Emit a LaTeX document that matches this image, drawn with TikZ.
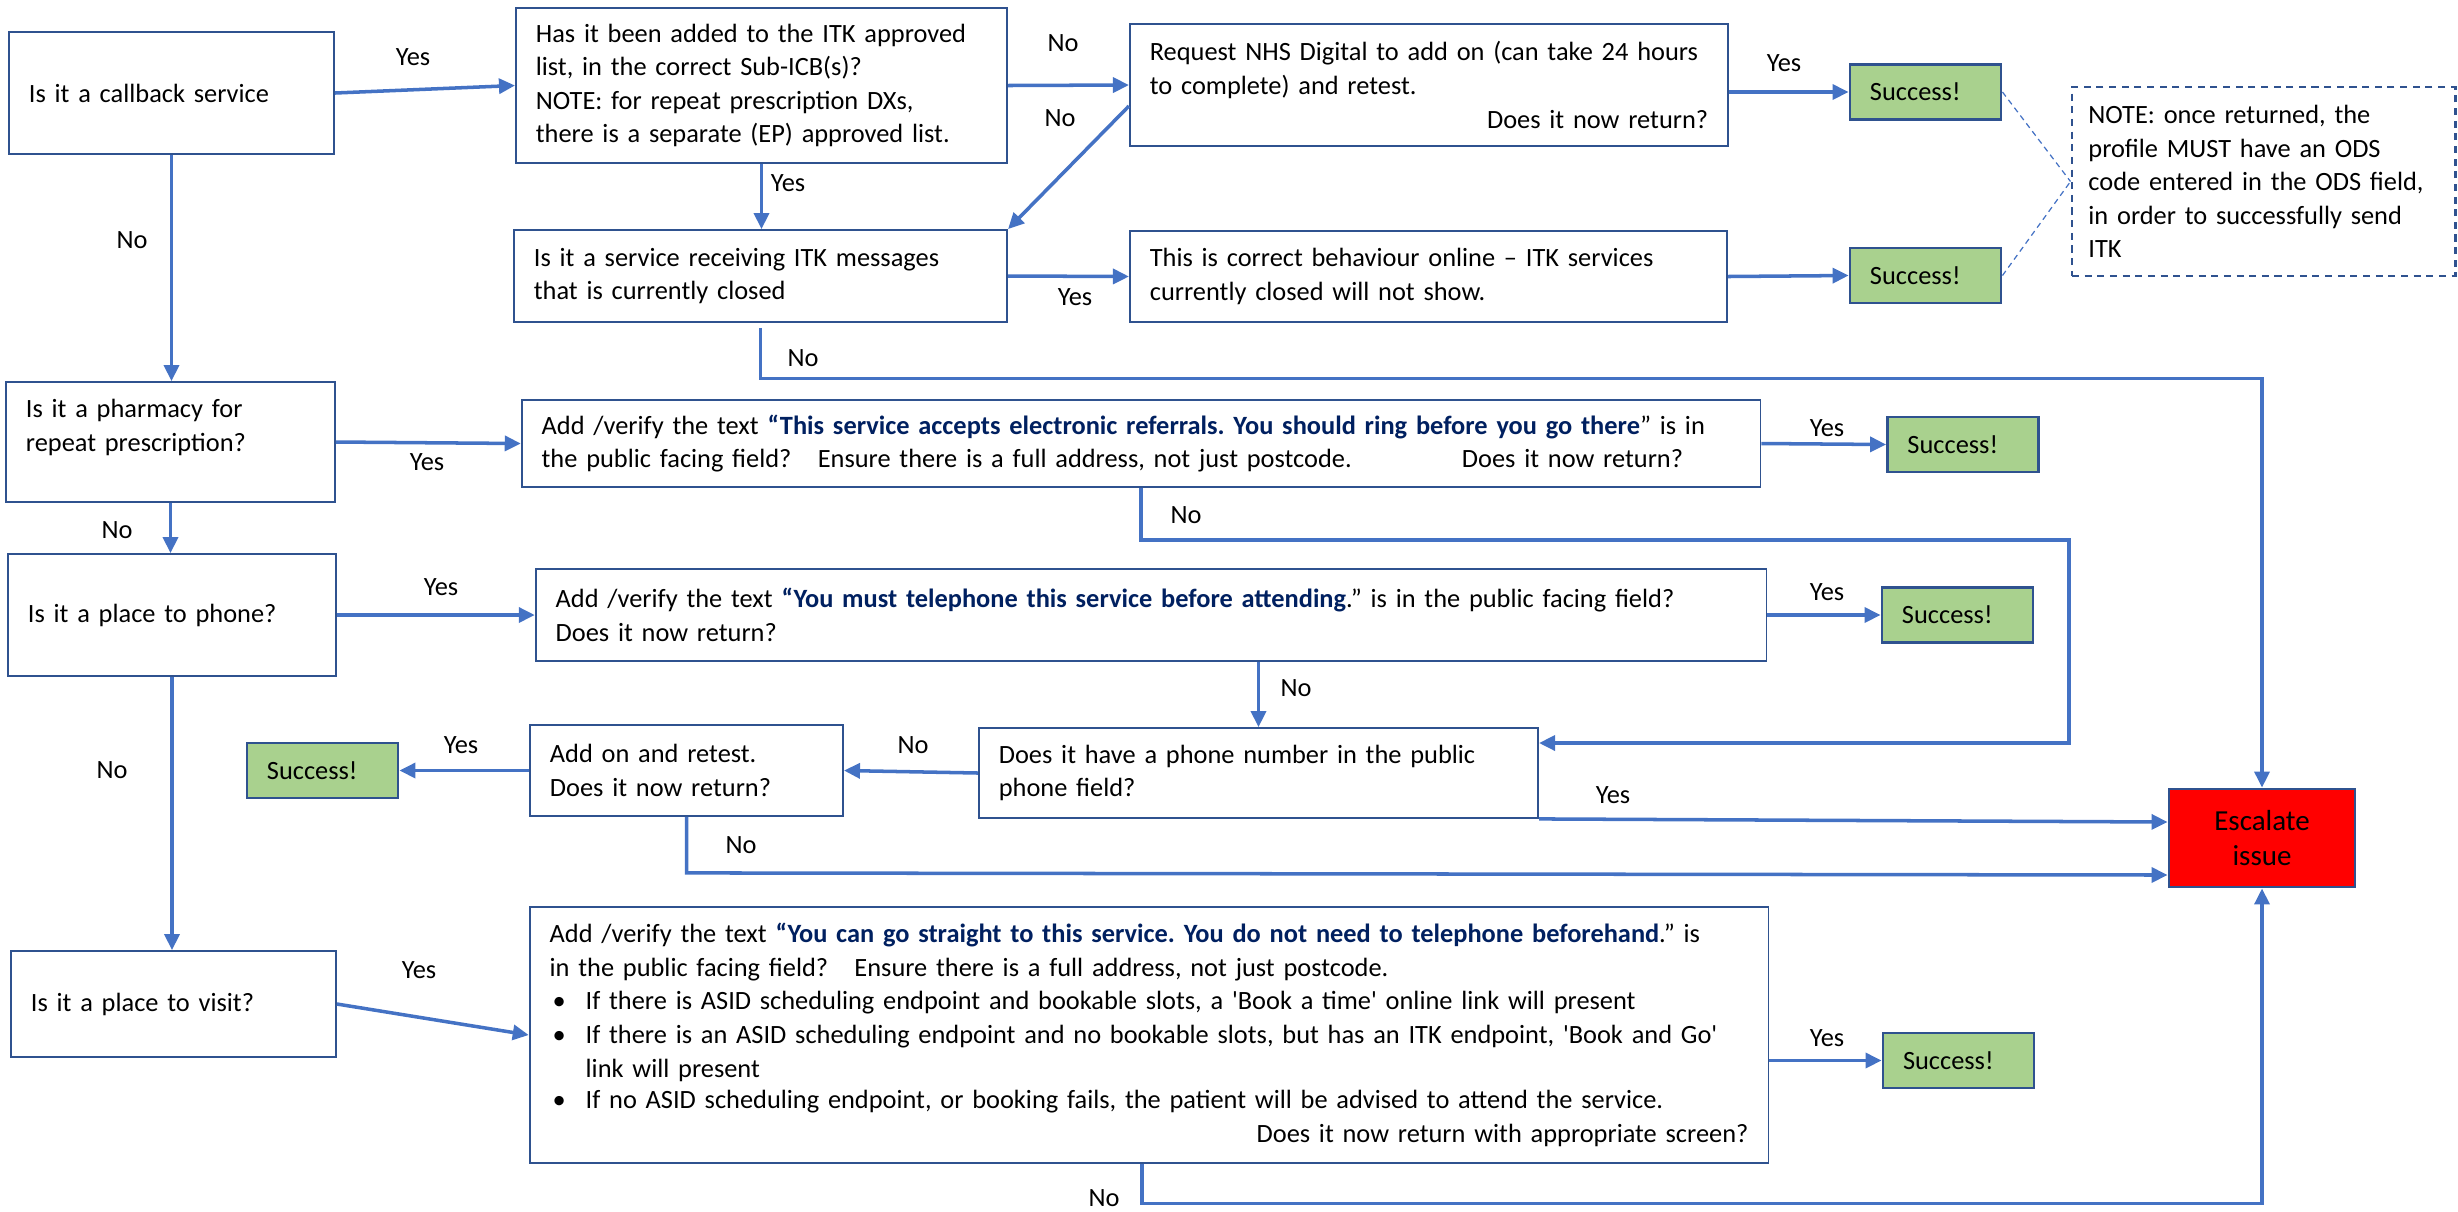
\documentclass[tikz,border=0pt]{standalone}
\usepackage{fontspec}
\setmainfont{Carlito}
\usetikzlibrary{arrows.meta,calc}
\definecolor{boxblue}{HTML}{2F528F}
\definecolor{lineblue}{HTML}{4472C4}
\definecolor{okgreen}{HTML}{A9D18E}
\definecolor{navy}{HTML}{002060}
\newcommand{\boxfont}{\fontsize{7.5}{9.55}\selectfont\frenchspacing\hyphenpenalty=10000\parskip=0pt}
\newcommand{\hl}[1]{\textbf{\color{navy}#1}}
\newcommand{\bul}{\leavevmode\hbox to 0.36cm{\hskip0.03cm\textbullet\hfil}}
\tikzset{
  box/.style 2 args={draw=boxblue, line width=0.5pt, fill=white, align=left, text width=#1, minimum height=#2, inner xsep=0.2cm, inner ysep=0pt},
  okbox/.style={draw=boxblue, line width=0.8pt, fill=okgreen, align=left, text width=1.11cm, minimum height=0.55cm, inner xsep=0.2cm, inner ysep=0pt},
  escbox/.style={draw=boxblue, line width=0.8pt, fill=red, align=center, minimum width=1.86cm, minimum height=0.98cm, font=\fontsize{8.25}{10}\selectfont},
  link/.style={draw=lineblue, line width=1pt, -{Triangle[length=0.16cm,width=0.15cm]}},
  dotlink/.style={draw=lineblue, line width=0.35pt, dash pattern=on 1.6pt off 1.2pt},
}
\begin{document}
\begin{tikzpicture}[x=0.01cm, y=-0.01cm, font=\boxfont]
\useasboundingbox (0,0) rectangle (2458,1211);

% callback branch
\node[box={2.85cm}{1.22cm}] (cb) at (171.5,93) {Is it a callback service};
\node[box={4.51cm}{1.55cm}] (itk) at (761.5,85.5) {Has it been added to the ITK approved\\list, in the correct Sub-ICB(s)?\\NOTE: for repeat prescription DXs,\\there is a separate (EP) approved list.};
\node[box={5.58cm}{1.22cm}] (req) at (1429,85) {Request NHS Digital to add on (can take 24 hours\\to complete) and retest.\\\hspace*{\fill}Does it now return?};
\node[okbox] (ok1) at (1925.5,92) {Success!};
\node[box={4.53cm}{0.92cm}] (closed) at (760.5,276) {Is it a service receiving ITK messages\\that is currently closed};
\node[box={5.57cm}{0.91cm}] (correct) at (1428.5,276.5) {This is correct behaviour online – ITK services\\currently closed will not show.};
\node[okbox] (ok2) at (1925.5,275.5) {Success!};
\node[box={3.5cm}{1.89cm}, inner xsep=0.165cm, line width=0.8pt, dash pattern=on 2pt off 1.6pt] (note) at (2263.5,181.5) {NOTE: once returned, the\\profile MUST have an ODS\\code entered in the ODS field,\\in order to successfully send\\ITK};

% pharmacy branch
\node[box={2.89cm}{1.2cm}] (pharm) at (170.5,442) {Is it a pharmacy for\\repeat prescription?\\\mbox{}};
\node[box={11.98cm}{0.87cm}] (add1) at (1141,443.5) {Add /verify the text \hl{“This service accepts electronic referrals. You should ring before you go there}” is in\\the public facing field?\ \ \ Ensure there is a full address, not just postcode.\hspace{1.1cm}Does it now return?};
\node[okbox] (ok3) at (1963,444.5) {Success!};

% phone branch
\node[box={2.88cm}{1.22cm}] (phone) at (172,615) {Is it a place to phone?};
\node[box={11.9cm}{0.92cm}] (add2) at (1151,615) {Add /verify the text \hl{“You must telephone this service before attending}.” is in the public facing field?\\Does it now return?};
\node[okbox] (ok5) at (1957.5,615) {Success!};
\node[box={5.19cm}{0.9cm}] (num) at (1258.5,773) {Does it have a phone number in the public\\phone field?};
\node[box={2.73cm}{0.91cm}] (addon) at (686.5,770.5) {Add on and retest.\\Does it now return?};
\node[okbox] (ok4) at (322.5,770.5) {Success!};
\node[escbox] (esc) at (2262,838) {Escalate\\issue};

% visit branch
\node[box={2.85cm}{1.06cm}] (visit) at (173.5,1004) {Is it a place to visit?};
\node[box={11.98cm}{2.56cm}] (add3) at (1149,1035) {Add /verify the text \hl{“You can go straight to this service. You do not need to telephone beforehand}.” is\newline in the public facing field?\ \ \ Ensure there is a full address, not just postcode.\par
  \bul If there is ASID scheduling endpoint and bookable slots, a \textquotesingle Book a time\textquotesingle\ online link will present\par
  \bul\parbox[t]{11.5cm}{If there is an ASID scheduling endpoint and no bookable slots, but has an ITK endpoint, \textquotesingle Book and Go\textquotesingle\\link will present\strut}\par
  \bul If no ASID scheduling endpoint, or booking fails, the patient will be advised to attend the service.\newline\hspace*{\fill}Does it now return with appropriate screen?};
\node[okbox] (ok6) at (1958.5,1060.5) {Success!};

% connectors
\draw[link] (cb.east) -- (itk.west);
\draw[link] (itk.east) -- (req.west);
\draw[link] (req.184) -- (closed.north east);
\draw[link] (itk.south) -- (itk.south |- closed.north);
\draw[link] (closed.east) -- (correct.west);
\draw[link] (req.east |- ok1.west) -- (ok1.west);
\draw[link] (correct.east) -- (ok2.west);
\draw[dotlink] (ok1.east) -- (note.west);
\draw[dotlink] (ok2.east) -- (note.west);
\draw[link] ($(closed.south)+(0,5)$) |- ($(esc.north)+(0,-409)$) -- (esc.north);
\draw[link] (cb.south) -- (cb.south |- pharm.north);
\draw[link] (pharm.east) -- (add1.west);
\draw[link] (add1.east) -- (ok3.west);
\draw[link] (add1.south) -- ++(0,52) -- ++(928,0) |- ($(num.east)+(0,-30)$);
\draw[link] (pharm.south) -- (pharm.south |- phone.north);
\draw[link] (phone.east) -- (add2.west);
\draw[link] (add2.east) -- (ok5.west);
\draw[link] (add2.south -| num.north) -- (num.north);
\draw[link] (num.west) -- (addon.east);
\draw[link] (addon.west) -- (ok4.east);
\draw[link] (num.south east) -- ($(esc.west)+(0,-16)$);
\draw[link] (addon.south) -- ++(0,56) -- ($(esc.west)+(0,37)$);
\draw[link] (phone.south) -- (phone.south |- visit.north);
\draw[link] (visit.east) -- (add3.west);
\draw[link] (add3.east |- ok6.west) -- (ok6.west);
\draw[link] ($(add3.south)+(-7,0)$) |- ($(esc.south)+(0,315)$) -- (esc.south);

% yes / no labels
\foreach \n/\p/\t in {1/{413,57}/Yes, 2/{1063,43}/No, 3/{1060,118}/No, 4/{788,183}/Yes,
  5/{1075,297}/Yes, 6/{1784,63}/Yes, 7/{803,358}/No, 8/{132,240}/No, 9/{427,462}/Yes,
  10/{1186,515}/No, 11/{117,530}/No, 12/{441,587}/Yes, 13/{1827,428}/Yes, 14/{1827,592}/Yes,
  15/{1296,688}/No, 16/{913,745}/No, 17/{461,745}/Yes, 18/{1613,795}/Yes, 19/{741,845}/No,
  20/{112,770}/No, 21/{419,970}/Yes, 22/{1827,1038}/Yes, 23/{1104,1198}/No}
  \node[inner sep=0pt] (lab\n) at (\p) {\t};

\end{tikzpicture}
\end{document}
